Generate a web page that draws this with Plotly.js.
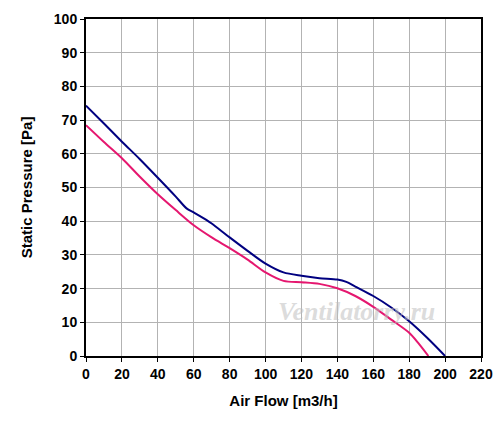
<!DOCTYPE html>
<html>
<head>
<meta charset="utf-8">
<script src="https://cdn.plot.ly/plotly-3.0.1.min.js"></script>
<style>html,body{margin:0;padding:0;background:#fff;}#chart{width:500px;height:421px;}</style>
</head>
<body>
<div id="chart"></div>
<script>
var blueX = [0,10,20,30,40,50,56,60,67,70,80,90,100,110,120,130,140,145,150,160,170,180,190,200];
var blueY = [74.3,69.0,63.6,58.4,52.9,47.3,43.8,42.6,40.4,39.3,35.2,31.2,27.4,24.8,23.8,23.1,22.7,22.0,20.6,17.8,14.4,10.3,5.4,0];
var redX = [0,10,20,30,40,50,60,70,80,90,100,110,120,130,140,150,160,170,180,185,190.7];
var redY = [68.5,63.5,58.7,53.2,48.0,43.3,38.8,35.2,32.0,28.6,24.8,22.3,21.9,21.4,20.1,17.8,14.6,10.8,6.9,3.9,0];
var xTitle = 'Air Flow [m3/h]';
var yTitle = 'Static Pressure [Pa]';
var watermark = 'Ventilatorry.ru';

var tickFont = {family: 'Liberation Sans, Arial, sans-serif', size: 14, color: '#000', weight: 'bold'};
var titleFont = {family: 'Liberation Sans, Arial, sans-serif', size: 15, color: '#000', weight: 'bold'};

var traces = [
  {x: blueX, y: blueY, mode: 'lines', line: {color: '#000080', width: 2, shape: 'spline', smoothing: 0.8}, hoverinfo: 'skip'},
  {x: redX, y: redY, mode: 'lines', line: {color: '#e5176f', width: 2, shape: 'spline', smoothing: 0.8}, hoverinfo: 'skip'}
];

var layout = {
  width: 500, height: 421,
  margin: {l: 86, r: 19, t: 19, b: 65},
  paper_bgcolor: '#fff', plot_bgcolor: '#fff',
  showlegend: false,
  font: tickFont,
  xaxis: {
    range: [0, 220], dtick: 20, tick0: 0,
    showgrid: true, gridcolor: '#b3b3b3', gridwidth: 1,
    showline: true, linecolor: '#000', linewidth: 2, mirror: true,
    ticks: 'outside', ticklen: 4, tickcolor: '#000', tickwidth: 1,
    zeroline: false, tickfont: tickFont,
    title: {text: xTitle, font: titleFont, standoff: 15}
  },
  yaxis: {
    range: [0, 100], dtick: 10, tick0: 0,
    showgrid: true, gridcolor: '#b3b3b3', gridwidth: 1,
    showline: true, linecolor: '#000', linewidth: 2, mirror: true,
    ticks: 'outside', ticklen: 4, tickcolor: '#000', tickwidth: 1,
    zeroline: false, tickfont: tickFont,
    title: {text: yTitle, font: titleFont, standoff: 18}
  },
  annotations: [{
    text: watermark, xref: 'paper', yref: 'paper', showarrow: false,
    xanchor: 'center', yanchor: 'middle',
    font: {family: 'Liberation Serif, Times New Roman, serif', size: 26, color: 'rgba(190,190,190,0.55)', style: 'italic'}
  }]
};
layout.annotations[0].x = (356 - 86) / (500 - 86 - 19);
layout.annotations[0].y = 1 - (311 - 19) / (421 - 19 - 65);

Plotly.newPlot('chart', traces, layout, {staticPlot: true, displayModeBar: false});
</script>
</body>
</html>
